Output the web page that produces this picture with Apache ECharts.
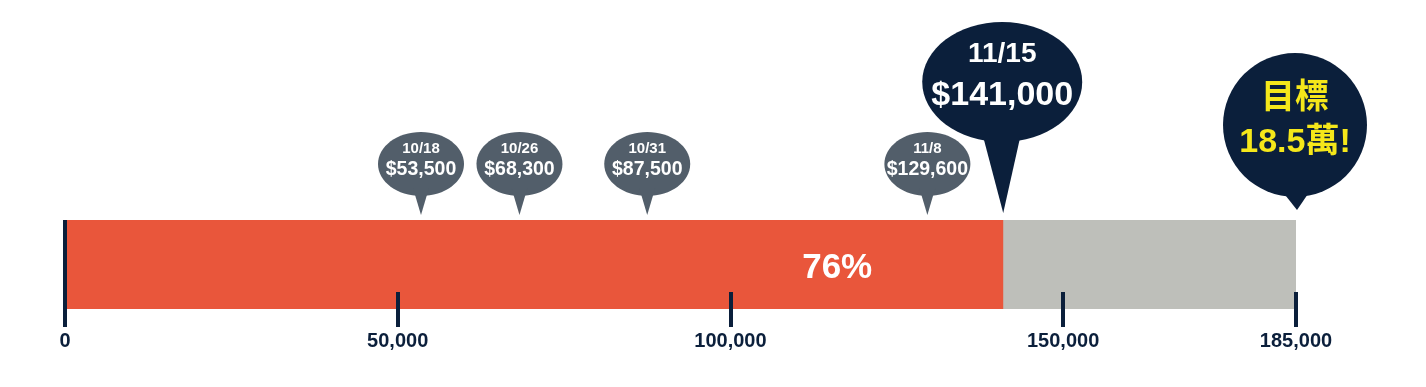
<!DOCTYPE html>
<html>
<head>
<meta charset="utf-8">
<script src="https://cdn.jsdelivr.net/npm/echarts@6/dist/echarts.min.js"></script>
<style>
html,body{margin:0;padding:0;background:#ffffff;}
#chart{width:1426px;height:387px;}
</style>
</head>
<body>
<div id="chart"></div>
<script>
// ---- data ----
const categories = ['進度'];
const goalValue = 185000;
const currentValue = 141000;
const currentDate = '11/15';
const milestoneDates = ['10/18', '10/26', '10/31', '11/8'];
const milestoneValues = [53500, 68300, 87500, 129600];
const goalLine1 = '目標';
const goalLine2 = '18.5萬!';
const tickValues = [0, 50000, 100000, 150000, 185000];
const tickLabels = ['0', '50,000', '100,000', '150,000', '185,000'];

// ---- styles ----
const NAVY = '#0b1f3b';
const RED = '#e9563b';
const GREY_BAR = '#bebfba';
const BUBBLE_GREY = '#525e6a';
const YELLOW = '#f5e71a';
const FONT = '"Liberation Sans", Arial, sans-serif';
const CJK_FONT = '"Liberation Sans", Arial, "Noto Sans CJK TC", sans-serif';

function money(v) { return '$' + v.toLocaleString('en-US'); }

function txt(text, x, y, size, fill, family) {
  return {
    type: 'text',
    style: {
      text: text, x: x, y: y, fill: fill,
      fontSize: size, fontWeight: 'bold', fontFamily: family || FONT,
      align: 'center', verticalAlign: 'middle'
    }
  };
}

function anchor(api) {
  const p = api.coord([api.value(0), api.value(1)]);
  const bandH = api.size([0, 1])[1];
  return { x: p[0], top: p[1] - bandH / 2 };
}

function renderSmall(params, api) {
  const a = anchor(api);
  const x = a.x, tipY = a.top - 5;
  const cy = tipY - 51;
  const i = params.dataIndex;
  return {
    type: 'group',
    children: [
      { type: 'ellipse', shape: { cx: x, cy: cy, rx: 43, ry: 32 }, style: { fill: BUBBLE_GREY } },
      { type: 'polygon', shape: { points: [[x - 8, cy + 24], [x + 8, cy + 24], [x, tipY]] }, style: { fill: BUBBLE_GREY } },
      txt(milestoneDates[i], x, cy - 15, 15, '#ffffff'),
      txt(money(milestoneValues[i]), x, cy + 6, 19.5, '#ffffff')
    ]
  };
}

function renderCurrent(params, api) {
  const a = anchor(api);
  const x = a.x, tipY = a.top - 7;
  const cx = x - 1, cy = tipY - 131;
  return {
    type: 'group',
    children: [
      { type: 'ellipse', shape: { cx: cx, cy: cy, rx: 80, ry: 60 }, style: { fill: NAVY } },
      { type: 'polygon', shape: { points: [[x - 20, cy + 55], [x + 17, cy + 55], [x, tipY]] }, style: { fill: NAVY } },
      txt(currentDate, cx, cy - 28, 28, '#ffffff'),
      txt(money(api.value(0)), cx, cy + 14, 34, '#ffffff')
    ]
  };
}

function renderGoal(params, api) {
  const a = anchor(api);
  const x = a.x, tipY = a.top - 10;
  const cx = x - 1, cy = tipY - 85;
  return {
    type: 'group',
    children: [
      { type: 'circle', shape: { cx: cx, cy: cy, r: 72 }, style: { fill: NAVY } },
      { type: 'polygon', shape: { points: [[x - 14, cy + 66], [x + 14, cy + 66], [x + 1, tipY]] }, style: { fill: NAVY } },
      txt(goalLine1, cx, cy - 26, 34, YELLOW, CJK_FONT),
      txt(goalLine2, cx, cy + 18, 34, YELLOW, CJK_FONT)
    ]
  };
}

const chart = echarts.init(document.getElementById('chart'), null, { renderer: 'canvas' });
chart.setOption({
  animation: false,
  backgroundColor: '#ffffff',
  grid: [
    { left: 65, right: 130, top: 220, height: 89 },
    { left: 65, right: 130, top: 220, height: 107 }
  ],
  xAxis: [
    { gridIndex: 0, type: 'value', min: 0, max: goalValue, show: false },
    {
      gridIndex: 1, type: 'value', min: 0, max: goalValue, z: 10,
      axisLine: { show: false },
      splitLine: { show: false },
      axisTick: { show: true, inside: true, length: 35, customValues: tickValues, lineStyle: { color: NAVY, width: 4 } },
      axisLabel: {
        show: true, customValues: tickValues, margin: 4,
        formatter: function (v) { return tickLabels[tickValues.indexOf(v)]; },
        color: NAVY, fontSize: 20, fontWeight: 'bold', fontFamily: FONT
      }
    }
  ],
  yAxis: [
    { gridIndex: 0, type: 'category', data: categories, show: false },
    {
      gridIndex: 1, type: 'value', min: 0, max: 1, z: 10,
      axisLine: { show: true, lineStyle: { color: NAVY, width: 4, cap: 'butt' } },
      axisTick: { show: false }, axisLabel: { show: false }, splitLine: { show: false }
    }
  ],
  series: [
    {
      type: 'bar', xAxisIndex: 0, yAxisIndex: 0, barWidth: '100%', barGap: '-100%',
      data: [goalValue], itemStyle: { color: GREY_BAR }, silent: true
    },
    {
      type: 'bar', xAxisIndex: 0, yAxisIndex: 0, barWidth: '100%', barGap: '-100%',
      data: [currentValue], itemStyle: { color: RED }, silent: true,
      label: {
        show: true, position: 'insideRight', distance: 131, offset: [0, 4],
        formatter: function () { return Math.round(currentValue / goalValue * 100) + '%'; },
        color: '#ffffff', fontSize: 35, fontWeight: 'bold', fontFamily: FONT
      }
    },
    {
      type: 'custom', xAxisIndex: 0, yAxisIndex: 0, clip: false, z: 20,
      renderItem: renderSmall,
      data: milestoneValues.map(function (v) { return [v, 0]; })
    },
    {
      type: 'custom', xAxisIndex: 0, yAxisIndex: 0, clip: false, z: 21,
      renderItem: renderCurrent,
      data: [[currentValue, 0]]
    },
    {
      type: 'custom', xAxisIndex: 0, yAxisIndex: 0, clip: false, z: 21,
      renderItem: renderGoal,
      data: [[goalValue, 0]]
    }
  ]
});
</script>
</body>
</html>
